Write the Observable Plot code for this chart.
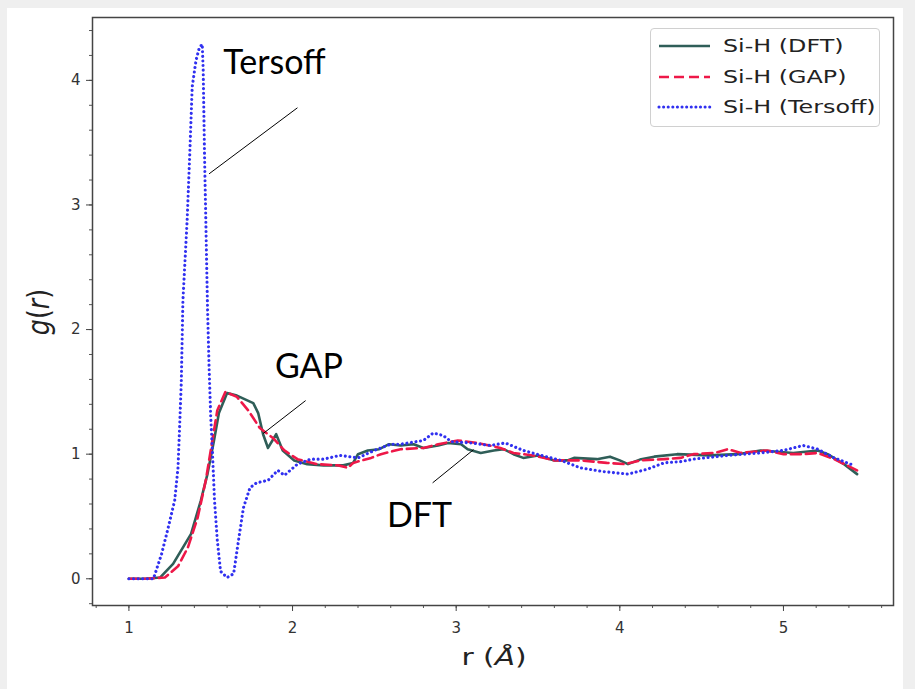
<!DOCTYPE html>
<html><head><meta charset="utf-8">
<script src="https://cdn.jsdelivr.net/npm/d3@7"></script>
<script src="https://cdn.jsdelivr.net/npm/@observablehq/plot@0.6"></script>
<style>
body{margin:0;background:#efefef;width:915px;height:689px;overflow:hidden;position:relative;font-family:"DejaVu Sans",sans-serif;}
#page{position:absolute;left:7px;top:8px;width:896px;height:681px;background:#fff;}
#chart{position:absolute;left:0;top:0;}
.lab{position:absolute;color:#222;font-family:"DejaVu Sans",sans-serif;white-space:nowrap;}
#xlab{left:494px;top:657px;transform:translate(-50%,-50%) scale(1.35,1.05);font-size:22px;}
#ylab{left:39px;top:312px;transform:translate(-50%,-50%) rotate(-90deg) scale(1.1,1.3);font-size:23px;}
#legend{position:absolute;left:650px;top:28px;width:230px;height:99px;border:1px solid #d0d0d0;border-radius:4px;background:rgba(255,255,255,0.9);box-sizing:border-box;}
.row{position:absolute;left:0;height:30px;width:100%;}
.row svg{position:absolute;left:5px;top:0;}
.row span{position:absolute;left:72px;top:50%;transform:translateY(-50%) scaleX(1.36);transform-origin:0 50%;font-size:17.5px;color:#222;}
</style></head><body>
<div id="page"></div>
<div id="chart"></div>
<div class="lab" id="xlab">r (<i>Å</i>)</div>
<div class="lab" id="ylab"><i>g</i>(<i>r</i>)</div>
<div id="legend"></div>
<script>
// ---- data ----
const seriesNames = ["Si-H (DFT)", "Si-H (GAP)", "Si-H (Tersoff)"];
const seriesColors = ["#2f5e58", "#ee1848", "#3030f0"];

const dftR = [1.00,1.10,1.19,1.27,1.38,1.44,1.48,1.52,1.55,1.60,1.66,1.76,1.79,1.82,1.85,1.90,1.94,2.01,2.09,2.19,2.31,2.37,2.40,2.46,2.53,2.59,2.66,2.74,2.80,2.89,2.95,3.03,3.07,3.15,3.23,3.29,3.35,3.41,3.50,3.60,3.68,3.72,3.86,3.94,4.00,4.05,4.13,4.21,4.35,4.55,4.72,4.86,5.06,5.21,5.27,5.37,5.45];
const dftG = [0,0,0.01,0.12,0.36,0.63,0.84,1.11,1.33,1.49,1.47,1.41,1.33,1.16,1.05,1.16,1.03,0.95,0.92,0.91,0.91,0.93,1.00,1.03,1.04,1.08,1.07,1.08,1.05,1.07,1.09,1.08,1.04,1.01,1.03,1.04,1.00,0.97,0.99,0.95,0.95,0.97,0.96,0.98,0.95,0.92,0.96,0.98,1.00,0.99,1.00,1.03,1.01,1.03,1.00,0.92,0.84];

const gapR = [1.00,1.10,1.22,1.30,1.36,1.42,1.47,1.51,1.54,1.59,1.66,1.73,1.80,1.88,1.95,2.03,2.15,2.28,2.34,2.37,2.48,2.54,2.66,2.80,2.89,3.01,3.13,3.27,3.35,3.47,3.60,3.76,3.92,4.03,4.13,4.27,4.37,4.45,4.58,4.66,4.74,4.90,5.00,5.11,5.21,5.31,5.45];
const gapG = [0,0,0.01,0.10,0.25,0.49,0.79,1.11,1.35,1.50,1.46,1.35,1.21,1.13,1.03,0.96,0.92,0.91,0.89,0.93,0.97,1.00,1.04,1.05,1.08,1.11,1.09,1.05,1.01,0.99,0.95,0.95,0.93,0.92,0.95,0.96,0.97,1.00,1.01,1.04,1.01,1.03,1.00,1.00,1.01,0.96,0.87];

const tersR = [1.00,1.15,1.20,1.24,1.28,1.30,1.31,1.32,1.33,1.356,1.372,1.387,1.41,1.43,1.448,1.454,1.462,1.47,1.48,1.49,1.50,1.51,1.523,1.54,1.56,1.60,1.64,1.67,1.70,1.74,1.78,1.85,1.91,1.95,2.03,2.11,2.19,2.29,2.40,2.50,2.60,2.66,2.80,2.86,2.92,2.97,3.09,3.21,3.30,3.41,3.52,3.64,3.76,3.90,4.05,4.17,4.27,4.37,4.45,4.66,4.86,5.00,5.12,5.21,5.31,5.43];
const tersG = [0,0,0.20,0.41,0.63,0.89,1.22,1.57,2.23,2.88,3.41,3.95,4.16,4.26,4.29,4.08,3.41,2.88,2.20,1.70,1.30,1.03,0.63,0.31,0.06,0.01,0.04,0.31,0.57,0.73,0.77,0.79,0.87,0.83,0.92,0.96,0.96,0.99,0.97,1.03,1.08,1.08,1.11,1.17,1.15,1.10,1.09,1.07,1.09,1.03,0.99,0.95,0.89,0.86,0.84,0.88,0.93,0.94,0.96,0.99,1.01,1.03,1.07,1.04,0.97,0.91];

// annotations (data coordinates)
const annotText = ["Tersoff", "GAP", "DFT"];
const annotX = [1.89, 2.10, 2.776];
const annotY = [4.14, 1.70, 0.506];
const leadX1 = [2.03, 2.08, 2.856];
const leadY1 = [3.78, 1.43, 0.77];
const leadX2 = [1.49, 1.82, 3.106];
const leadY2 = [3.25, 1.165, 1.036];

const xMajor = [1, 2, 3, 4, 5];
const yMajor = [0, 1, 2, 3, 4];

// ---- build ----
const toRows = (rs, gs) => rs.map((r, i) => ({r, g: gs[i]}));
const dft = toRows(dftR, dftG), gap = toRows(gapR, gapG), ters = toRows(tersR, tersG);
const annots = annotText.map((t, i) => ({t, x: annotX[i], y: annotY[i]}));
const leads = leadX1.map((x1, i) => ({x1, y1: leadY1[i], x2: leadX2[i], y2: leadY2[i]}));
const xMinor = d3.range(8, 57, 2).map(v => v / 10);
const yMinor = d3.range(-2, 45, 2).map(v => v / 10);

const lw = 2.6;
const dotW = 3.1;
const dotDash = "0.01,4.6";
const chart = Plot.plot({
  width: 915, height: 689,
  marginLeft: 92, marginRight: 22, marginTop: 17, marginBottom: 84,
  x: {domain: [0.7775, 5.6725]},
  y: {domain: [-0.2145, 4.5045]},
  style: {background: "transparent", fontFamily: "DejaVu Sans", color: "#333"},
  marks: [
    Plot.axisX(xMinor, {tickSize: 3, tickFormat: () => "", label: null, stroke: "#555"}),
    Plot.axisY(yMinor, {tickSize: 3, tickFormat: () => "", label: null, stroke: "#555"}),
    Plot.axisX(xMajor, {tickSize: 6, tickPadding: 11, fontSize: 15, label: null, stroke: "#444", tickFormat: d3.format("d")}),
    Plot.axisY(yMajor, {tickSize: 6, tickPadding: 6, fontSize: 15, label: null, stroke: "#444", tickFormat: d3.format("d")}),
    Plot.line(dft, {x: "r", y: "g", stroke: seriesColors[0], strokeWidth: lw}),
    Plot.line(gap, {x: "r", y: "g", stroke: seriesColors[1], strokeWidth: lw, strokeDasharray: "10,5"}),
    Plot.line(ters, {x: "r", y: "g", stroke: seriesColors[2], strokeWidth: dotW, strokeDasharray: dotDash, strokeLinecap: "round"}),
    Plot.link(leads, {x1: "x1", y1: "y1", x2: "x2", y2: "y2", stroke: "#000", strokeWidth: 1}),
    Plot.text(annots, {x: "x", y: "y", text: "t", fontSize: 34, fontFamily: "Lato", fill: "#000", textAnchor: "middle", lineAnchor: "middle"}),
    Plot.frame({stroke: "#444", strokeWidth: 1.5})
  ]
});
document.getElementById("chart").appendChild(chart);

// legend
const leg = document.getElementById("legend");
const rowTops = [2, 33, 63];
const dashes = [null, "10,5", dotDash];
seriesNames.forEach((name, i) => {
  const row = document.createElement("div");
  row.className = "row";
  row.style.top = rowTops[i] + "px";
  const svg = d3.create("svg").attr("width", 58).attr("height", 30);
  svg.append("line").attr("x1", 3).attr("x2", 54).attr("y1", 15).attr("y2", 15)
    .attr("stroke", seriesColors[i]).attr("stroke-width", i === 2 ? dotW : lw)
    .attr("stroke-dasharray", dashes[i]).attr("stroke-linecap", i === 2 ? "round" : "butt");
  row.appendChild(svg.node());
  const sp = document.createElement("span");
  sp.textContent = name;
  row.appendChild(sp);
  leg.appendChild(row);
});
</script>
</body></html>
